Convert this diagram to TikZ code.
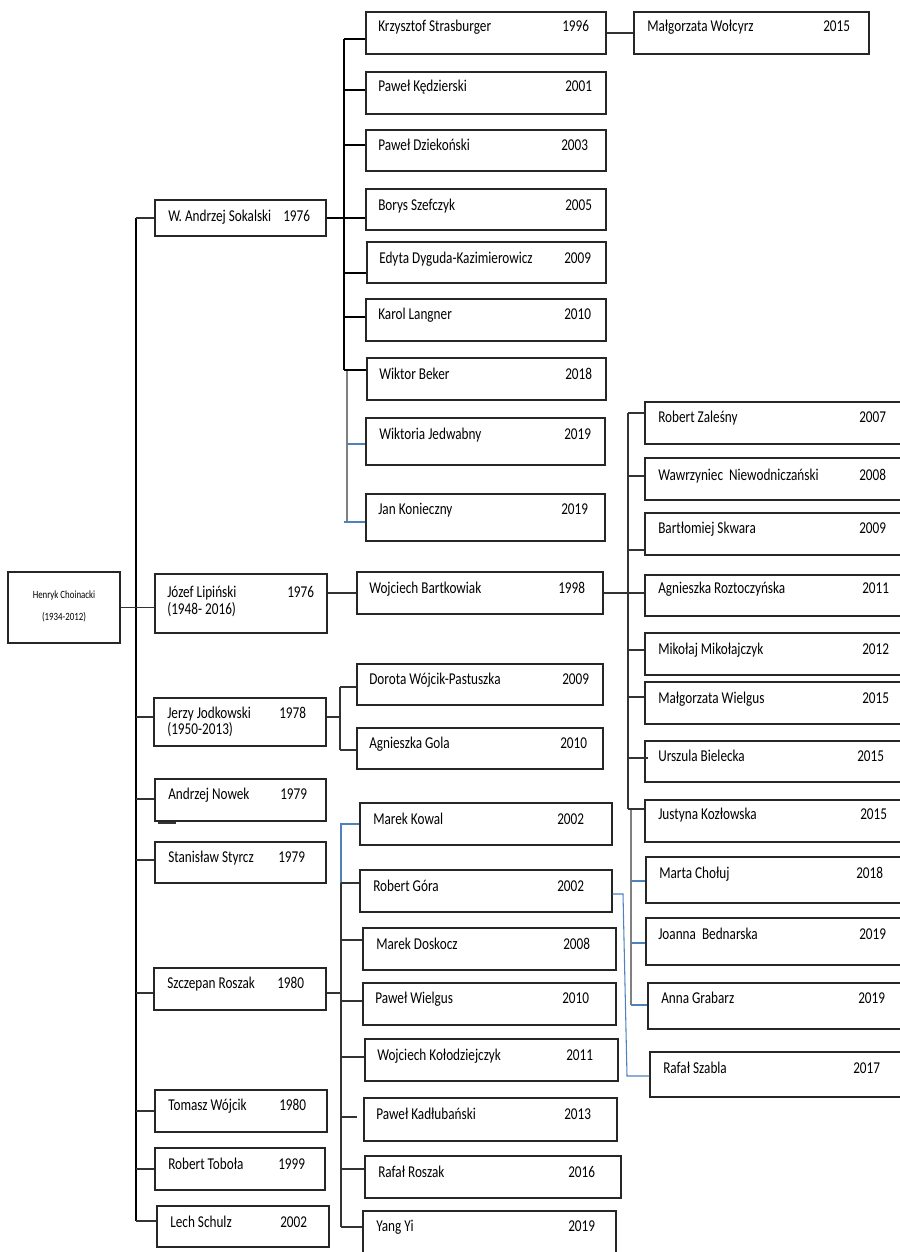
\documentclass[tikz,border=0pt]{standalone}
\usepackage{fontspec}
\setmainfont[FakeStretch=0.8]{Carlito}
\usepackage{tikz}
\usetikzlibrary{fit}
\definecolor{linkblue}{RGB}{79,129,189}

\begin{document}
\begin{tikzpicture}[x=0.75pt,y=0.75pt,yscale=-1,xscale=1,
  pbox/.style={draw=black!85, line width=0.95pt, inner sep=0pt},
  nm/.style={anchor=base west, inner sep=0pt, text=black, font=\fontsize{12.4}{14}\selectfont},
  rt/.style={inner sep=0pt, text=black, font=\fontsize{8.3}{10}\selectfont},
  conn/.style={draw=black!80, line width=0.85pt},
  trunkline/.style={draw=black, line width=1.6pt},
  spine/.style={draw=black, line width=1.2pt},
  greyline/.style={draw=black!50, line width=0.9pt},
  blueline/.style={draw=linkblue, line width=0.8pt}]
\useasboundingbox (0,0) rectangle (899,1252);

%Root box
\node[pbox, fit={(8,572) (120,643)}] (henryk) {};
\node[rt] (henryk-n) at (64,596) {Henryk Choinacki};
\node[rt] (henryk-d) at (64,617) {(1934-2012)};

%First level boxes
\node[pbox, fit={(155,200) (326,236)}] (sokalski) {};
\node[nm] (sokalski-n) at (168,221) {W. Andrzej Sokalski};
\node[nm] (sokalski-y) at (283,221) {1976};
\node[pbox, fit={(155,574) (327,633)}] (lipinski) {};
\node[nm] (lipinski-n) at (167,597) {Józef Lipiński};
\node[nm] (lipinski-d) at (167,614) {(1948- 2016)};
\node[nm] (lipinski-y) at (287,597) {1976};
\node[pbox, fit={(154,698) (326,746)}] (jodkowski) {};
\node[nm] (jodkowski-n) at (167,718) {Jerzy Jodkowski};
\node[nm] (jodkowski-d) at (167,734) {(1950-2013)};
\node[nm] (jodkowski-y) at (279,718) {1978};
\node[pbox, fit={(155,779) (326,821)}] (nowek) {};
\node[nm] (nowek-n) at (168,799) {Andrzej Nowek};
\node[nm] (nowek-y) at (280,799) {1979};
\node[pbox, fit={(155,842) (326,883)}] (styrcz) {};
\node[nm] (styrcz-n) at (168,862) {Stanisław Styrcz};
\node[nm] (styrcz-y) at (278,862) {1979};
\node[pbox, fit={(154,968) (326,1010)}] (szczepan) {};
\node[nm] (szczepan-n) at (167,988) {Szczepan Roszak};
\node[nm] (szczepan-y) at (277,988) {1980};
\node[pbox, fit={(155,1090) (327,1132)}] (wojcik) {};
\node[nm] (wojcik-n) at (168,1110) {Tomasz Wójcik};
\node[nm] (wojcik-y) at (279,1110) {1980};
\node[pbox, fit={(155,1148) (325,1190)}] (tobola) {};
\node[nm] (tobola-n) at (168,1169) {Robert Toboła};
\node[nm] (tobola-y) at (278,1169) {1999};
\node[pbox, fit={(157,1206) (329,1247)}] (schulz) {};
\node[nm] (schulz-n) at (170,1227) {Lech Schulz};
\node[nm] (schulz-y) at (280,1227) {2002};

%Sokalski group
\node[pbox, fit={(366,12) (606,54)}] (strasburger) {};
\node[nm] (strasburger-n) at (378,32) {Krzysztof Strasburger};
\node[nm] (strasburger-y) at (562,32) {1996};
\node[pbox, fit={(366,72) (606,114)}] (kedzierski) {};
\node[nm] (kedzierski-n) at (378,92) {Paweł Kędzierski};
\node[nm] (kedzierski-y) at (565,92) {2001};
\node[pbox, fit={(366,130) (606,171)}] (dziekonski) {};
\node[nm] (dziekonski-n) at (378,151) {Paweł Dziekoński};
\node[nm] (dziekonski-y) at (561,151) {2003};
\node[pbox, fit={(366,189) (606,230)}] (szefczyk) {};
\node[nm] (szefczyk-n) at (378,210) {Borys Szefczyk};
\node[nm] (szefczyk-y) at (565,210) {2005};
\node[pbox, fit={(367,242) (606,283)}] (dyguda) {};
\node[nm] (dyguda-n) at (379,263) {Edyta Dyguda-Kazimierowicz};
\node[nm] (dyguda-y) at (564,263) {2009};
\node[pbox, fit={(366,299) (606,341)}] (langner) {};
\node[nm] (langner-n) at (378,319) {Karol Langner};
\node[nm] (langner-y) at (564,319) {2010};
\node[pbox, fit={(367,358) (606,400)}] (beker) {};
\node[nm] (beker-n) at (379,379) {Wiktor Beker};
\node[nm] (beker-y) at (565,379) {2018};
\node[pbox, fit={(366,418) (605,465)}] (jedwabny) {};
\node[nm] (jedwabny-n) at (379,439) {Wiktoria Jedwabny};
\node[nm] (jedwabny-y) at (564,439) {2019};
\node[pbox, fit={(366,494) (605,541)}] (konieczny) {};
\node[nm] (konieczny-n) at (378,514) {Jan Konieczny};
\node[nm] (konieczny-y) at (561,514) {2019};
\node[pbox, fit={(634,12) (869,54)}] (wolcyrz) {};
\node[nm] (wolcyrz-n) at (647,32) {Małgorzata Wołcyrz};
\node[nm] (wolcyrz-y) at (823,32) {2015};

%Lipinski group
\node[pbox, fit={(357,572) (603,614)}] (bartkowiak) {};
\node[nm] (bartkowiak-n) at (369,593) {Wojciech Bartkowiak};
\node[nm] (bartkowiak-y) at (558,593) {1998};
\node[pbox, fit={(645,402) (905,444)}] (zalesny) {};
\node[nm] (zalesny-n) at (658,422) {Robert Zaleśny};
\node[nm] (zalesny-y) at (859,422) {2007};
\node[pbox, fit={(645,458) (905,500)}] (niewod) {};
\node[nm] (niewod-n) at (658,480) {Wawrzyniec\ \ Niewodniczański};
\node[nm] (niewod-y) at (859,480) {2008};
\node[pbox, fit={(645,513) (905,555)}] (skwara) {};
\node[nm] (skwara-n) at (658,533) {Bartłomiej Skwara};
\node[nm] (skwara-y) at (859,533) {2009};
\node[pbox, fit={(645,575) (905,616)}] (roztocz) {};
\node[nm] (roztocz-n) at (658,593) {Agnieszka Roztoczyńska};
\node[nm] (roztocz-y) at (862,593) {2011};
\node[pbox, fit={(645,633) (905,675)}] (mikolaj) {};
\node[nm] (mikolaj-n) at (658,654) {Mikołaj Mikołajczyk};
\node[nm] (mikolaj-y) at (862,654) {2012};
\node[pbox, fit={(645,682) (905,724)}] (mwielgus) {};
\node[nm] (mwielgus-n) at (658,703) {Małgorzata Wielgus};
\node[nm] (mwielgus-y) at (862,703) {2015};
\node[pbox, fit={(645,741) (905,782)}] (bielecka) {};
\node[nm] (bielecka-n) at (658,761) {Urszula Bielecka};
\node[nm] (bielecka-y) at (857,761) {2015};
\node[pbox, fit={(645,800) (905,842)}] (kozlowska) {};
\node[nm] (kozlowska-n) at (658,819) {Justyna Kozłowska};
\node[nm] (kozlowska-y) at (860,819) {2015};
\node[pbox, fit={(646,857) (905,903)}] (choluj) {};
\node[nm] (choluj-n) at (659,878) {Marta Chołuj};
\node[nm] (choluj-y) at (856,878) {2018};
\node[pbox, fit={(646,918) (905,965)}] (bednarska) {};
\node[nm] (bednarska-n) at (658,939) {Joanna\ \ Bednarska};
\node[nm] (bednarska-y) at (859,939) {2019};
\node[pbox, fit={(648,983) (905,1029)}] (grabarz) {};
\node[nm] (grabarz-n) at (661,1003) {Anna Grabarz};
\node[nm] (grabarz-y) at (858,1003) {2019};
\node[pbox, fit={(650,1052) (905,1097)}] (szabla) {};
\node[nm] (szabla-n) at (663,1073) {Rafał Szabla};
\node[nm] (szabla-y) at (853,1073) {2017};

%Jodkowski group
\node[pbox, fit={(357,664) (603,705)}] (pastuszka) {};
\node[nm] (pastuszka-n) at (369,684) {Dorota Wójcik-Pastuszka};
\node[nm] (pastuszka-y) at (562,684) {2009};
\node[pbox, fit={(357,728) (603,769)}] (gola) {};
\node[nm] (gola-n) at (369,748) {Agnieszka Gola};
\node[nm] (gola-y) at (560,748) {2010};

%Roszak group
\node[pbox, fit={(360,803) (612,845)}] (kowal) {};
\node[nm] (kowal-n) at (373,824) {Marek Kowal};
\node[nm] (kowal-y) at (557,824) {2002};
\node[pbox, fit={(360,870) (612,912)}] (gora) {};
\node[nm] (gora-n) at (373,891) {Robert Góra};
\node[nm] (gora-y) at (557,891) {2002};
\node[pbox, fit={(363,928) (616,970)}] (doskocz) {};
\node[nm] (doskocz-n) at (376,949) {Marek Doskocz};
\node[nm] (doskocz-y) at (563,949) {2008};
\node[pbox, fit={(363,983) (616,1025)}] (pwielgus) {};
\node[nm] (pwielgus-n) at (375,1003) {Paweł Wielgus};
\node[nm] (pwielgus-y) at (562,1003) {2010};
\node[pbox, fit={(365,1039) (618,1081)}] (kolodziej) {};
\node[nm] (kolodziej-n) at (377,1060) {Wojciech Kołodziejczyk};
\node[nm] (kolodziej-y) at (566,1060) {2011};
\node[pbox, fit={(364,1098) (617,1141)}] (kadlub) {};
\node[nm] (kadlub-n) at (376,1119) {Paweł Kadłubański};
\node[nm] (kadlub-y) at (564,1119) {2013};
\node[pbox, fit={(365,1156) (621,1198)}] (rroszak) {};
\node[nm] (rroszak-n) at (378,1177) {Rafał Roszak};
\node[nm] (rroszak-y) at (568,1177) {2016};
\node[pbox, fit={(363,1211) (616,1258)}] (yangyi) {};
\node[nm] (yangyi-n) at (376,1231) {Yang Yi};
\node[nm] (yangyi-y) at (568,1231) {2019};

%Trunk
\coordinate (t1) at (136,218);
\coordinate (t2) at (136,717);
\coordinate (t3) at (136,799);
\coordinate (t4) at (136,860);
\coordinate (t5) at (136,993);
\coordinate (t6) at (136,1111);
\coordinate (t7) at (136,1169);
\coordinate (t8) at (136,1221);
\draw[trunkline] (t1) -- (t8);
\draw[conn] (henryk.east) -- (henryk.east -| lipinski.west);
\draw[conn] (t1) -- (t1 -| sokalski.west);
\draw[conn] (t2) -- (t2 -| jodkowski.west);
\draw[conn] (t3) -- (t3 -| nowek.west);
\coordinate (nw) at (158,823);
\draw[conn] (nw) -- ++(18,0);
\draw[conn] (t4) -- (t4 -| styrcz.west);
\draw[conn] (t5) -- (t5 -| szczepan.west);
\draw[conn] (t6) -- (t6 -| wojcik.west);
\draw[conn] (t7) -- (t7 -| tobola.west);
\draw[conn] (t8) -- (t8 -| schulz.west);

%Sokalski spine
\coordinate (sk1) at (344,39);
\coordinate (sk2) at (344,90);
\coordinate (sk3) at (344,145);
\coordinate (sk5) at (344,273);
\coordinate (sk6) at (344,317);
\coordinate (sk7) at (344,370);
\coordinate (sk8) at (347,444);
\coordinate (sk9) at (347,522);
\draw[spine] (sk1) -- (sk7);
\draw[greyline] (sk7 -| sk8) -- (sk9);
\draw[spine] (sk1) -- (sk1 -| strasburger.west);
\draw[spine] (sk2) -- (sk2 -| kedzierski.west);
\draw[spine] (sk3) -- (sk3 -| dziekonski.west);
\draw[spine] (sokalski.east) -- (sokalski.east -| szefczyk.west);
\draw[spine] (sk5) -- (sk5 -| dyguda.west);
\draw[spine] (sk6) -- (sk6 -| langner.west);
\draw[spine] (sk7) -- (sk7 -| beker.west);
\draw[blueline] (sk8) -- (sk8 -| jedwabny.west);
\draw[blueline] ([xshift=-2.25pt]sk9) -- (sk9 -| konieczny.west);
\draw[conn] (strasburger.east) -- (strasburger.east -| wolcyrz.west);

%Lipinski and Bartkowiak spine
\draw[conn] (bartkowiak.west) -- (bartkowiak.west -| lipinski.east);
\coordinate (bk1) at (628,413);
\coordinate (bk2) at (628,476);
\coordinate (bk3) at (628,550);
\coordinate (bk4) at (628,650);
\coordinate (bk5) at (628,697);
\coordinate (bk6) at (628,758);
\coordinate (bk7) at (628,809);
\coordinate (bk8) at (631,881);
\coordinate (bk9) at (631,943);
\coordinate (bk10) at (631,1005);
\draw[conn] (bk1) -- (bk7);
\draw[greyline] (bk7 -| bk8) -- (bk10);
\draw[conn] (bk1) -- (bk1 -| zalesny.west);
\draw[conn] (bk2) -- (bk2 -| niewod.west);
\draw[conn] (bk3) -- (bk3 -| skwara.west);
\draw[conn] (bartkowiak.east) -- (bartkowiak.east -| roztocz.west);
\draw[conn] (bk4) -- (bk4 -| mikolaj.west);
\draw[conn] (bk5) -- (bk5 -| mwielgus.west);
\draw[conn] (bk6) -- ([xshift=3pt]bk6 -| bielecka.west);
\draw[conn] (bk7) -- (bk7 -| kozlowska.west);
\draw[blueline] (bk8) -- (bk8 -| choluj.west);
\draw[blueline] (bk9) -- (bk9 -| bednarska.west);
\draw[blueline] (bk10) -- (bk10 -| grabarz.west);

%Jodkowski spine
\coordinate (jd1) at (340,687);
\coordinate (jd2) at (340,717);
\coordinate (jd3) at (340,750);
\draw[conn] (jd1) -- (jd3);
\draw[conn] (jd2) -- (jd2 -| jodkowski.east);
\draw[conn] (jd1) -- (jd1 -| pastuszka.west);
\draw[conn] (jd3) -- (jd3 -| gola.west);

%Roszak spine
\coordinate (rs1) at (341,824);
\coordinate (rs2) at (341,883);
\coordinate (rs3) at (341,940);
\coordinate (rs4) at (341,993);
\coordinate (rs5) at (341,1001);
\coordinate (rs6) at (341,1057);
\coordinate (rs7) at (341,1117);
\coordinate (rs8) at (341,1169);
\coordinate (rs9) at (341,1227);
\draw[blueline] (rs1 -| kowal.west) -- (rs1) -- (rs2);
\draw[conn] (rs2) -- (rs9);
\draw[conn] (rs2) -- (rs2 -| gora.west);
\draw[conn] (rs3) -- (rs3 -| doskocz.west);
\draw[conn] (rs4) -- (rs4 -| szczepan.east);
\draw[conn] (rs5) -- (rs5 -| pwielgus.west);
\draw[conn] (rs6) -- (rs6 -| kolodziej.west);
\draw[conn] (rs7) -- ++(16,0);
\draw[conn] (rs8) -- (rs8 -| rroszak.west);
\draw[conn] (rs9) -- (rs9 -| yangyi.west);

%Gora to Szabla
\coordinate (rz1) at (623,894);
\coordinate (rz2) at (627,1076);
\draw[blueline] (gora.east |- rz1) -- (rz1) -- (rz2) -- (rz2 -| szabla.west);

\end{tikzpicture}
\end{document}
